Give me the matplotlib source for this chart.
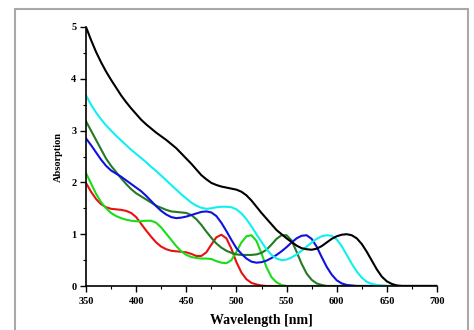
import matplotlib
matplotlib.use("Agg")
import matplotlib.pyplot as plt
from matplotlib.patches import Rectangle
from matplotlib.ticker import MultipleLocator

wavelength = list(range(350, 705, 5))

def pad(vals):
    return vals + [0.0] * (len(wavelength) - len(vals))

black = pad([5.00, 4.75, 4.52, 4.32, 4.14, 3.98, 3.83, 3.68, 3.55, 3.43,
             3.32, 3.21, 3.12, 3.04, 2.96, 2.89, 2.82, 2.74, 2.66, 2.56,
             2.46, 2.36, 2.25, 2.14, 2.06, 1.99, 1.95, 1.92, 1.90, 1.88,
             1.86, 1.82, 1.75, 1.65, 1.53, 1.41, 1.30, 1.19, 1.08, 1.00,
             0.92, 0.85, 0.78, 0.73, 0.71, 0.70, 0.72, 0.77, 0.84, 0.91,
             0.96, 0.99, 1.00, 0.98, 0.92, 0.81, 0.66, 0.49, 0.32, 0.18,
             0.09, 0.04, 0.01, 0.0])

cyan = pad([3.68, 3.50, 3.35, 3.22, 3.10, 3.00, 2.90, 2.81, 2.72, 2.63,
            2.55, 2.47, 2.39, 2.30, 2.22, 2.13, 2.04, 1.95, 1.86, 1.77,
            1.69, 1.61, 1.55, 1.51, 1.49, 1.50, 1.52, 1.53, 1.53, 1.52,
            1.48, 1.40, 1.29, 1.15, 1.00, 0.85, 0.71, 0.60, 0.53, 0.50,
            0.51, 0.55, 0.61, 0.68, 0.76, 0.84, 0.91, 0.96, 0.98, 0.97,
            0.90, 0.77, 0.60, 0.43, 0.28, 0.16, 0.08, 0.04, 0.02, 0.01,
            0.0])

blue = pad([2.85, 2.72, 2.58, 2.44, 2.32, 2.23, 2.17, 2.11, 2.04, 1.97,
            1.90, 1.83, 1.74, 1.64, 1.54, 1.45, 1.38, 1.33, 1.31, 1.32,
            1.34, 1.37, 1.40, 1.43, 1.44, 1.42, 1.35, 1.22, 1.06, 0.89,
            0.73, 0.62, 0.53, 0.47, 0.45, 0.46, 0.49, 0.54, 0.60, 0.67,
            0.75, 0.84, 0.92, 0.97, 0.98, 0.91, 0.76, 0.56, 0.37, 0.22,
            0.11, 0.05, 0.02, 0.01, 0.0])

dark_green = pad([3.18, 3.00, 2.82, 2.64, 2.46, 2.32, 2.20, 2.08, 1.97, 1.87,
                  1.79, 1.73, 1.67, 1.61, 1.55, 1.51, 1.47, 1.44, 1.43, 1.42,
                  1.41, 1.37, 1.29, 1.18, 1.05, 0.93, 0.82, 0.74, 0.68, 0.64,
                  0.61, 0.60, 0.60, 0.60, 0.61, 0.64, 0.70, 0.80, 0.91, 0.98,
                  0.98, 0.88, 0.66, 0.43, 0.24, 0.12, 0.05, 0.02, 0.0])

red = pad([1.99, 1.82, 1.68, 1.58, 1.52, 1.49, 1.48, 1.47, 1.45, 1.41,
           1.33, 1.20, 1.07, 0.95, 0.84, 0.76, 0.71, 0.68, 0.67, 0.66,
           0.65, 0.62, 0.58, 0.58, 0.65, 0.80, 0.94, 0.99, 0.92, 0.72,
           0.46, 0.26, 0.13, 0.06, 0.03, 0.01, 0.0])

light_green = pad([2.18, 1.98, 1.78, 1.62, 1.50, 1.41, 1.35, 1.31, 1.28, 1.26,
                   1.25, 1.25, 1.26, 1.26, 1.22, 1.13, 1.01, 0.89, 0.77, 0.67,
                   0.60, 0.56, 0.54, 0.53, 0.53, 0.52, 0.48, 0.45, 0.44, 0.50,
                   0.66, 0.84, 0.96, 0.98, 0.87, 0.63, 0.36, 0.17, 0.07, 0.02,
                   0.0])

series = [
    (red, "#e81010"),
    (light_green, "#18dd18"),
    (dark_green, "#237a23"),
    (blue, "#1010e0"),
    (cyan, "#10f0f0"),
    (black, "#000000"),
]

plt.rcParams['font.family'] = ['Liberation Serif', 'DejaVu Serif']
plt.rcParams['font.weight'] = 'bold'

fig = plt.figure(figsize=(4.74, 3.30), dpi=100)
fig.patches.append(Rectangle((15/474, -0.1), (468-15)/474, 1.1 - 9/330,
                             transform=fig.transFigure, fill=False,
                             edgecolor="#a8a8a8", linewidth=1.5))

ax = fig.add_axes([86/474, 1 - 286/330, (437-86)/474, (286-27)/330])
for vals, col in series:
    ax.plot(wavelength, vals, color=col, linewidth=1.5)

ax.set_xlim(350, 700)
ax.set_ylim(0, 5)
ax.spines['top'].set_visible(False)
ax.spines['right'].set_visible(False)
for s in ('left', 'bottom'):
    ax.spines[s].set_linewidth(1.2)
ax.xaxis.set_major_locator(MultipleLocator(50))
ax.xaxis.set_minor_locator(MultipleLocator(25))
ax.yaxis.set_major_locator(MultipleLocator(1))
ax.yaxis.set_minor_locator(MultipleLocator(0.5))
ax.tick_params(which='major', direction='out', length=4, width=1.0, labelsize=7.5)
ax.tick_params(axis='x', which='major', pad=4)
ax.tick_params(axis='y', which='major', pad=3)
ax.tick_params(which='minor', direction='out', length=2.5, width=0.8)
for lab in ax.get_xticklabels() + ax.get_yticklabels():
    lab.set_fontweight('bold')

ax.set_xlabel("Wavelength [nm]", fontsize=10, fontweight='bold', labelpad=6)
ax.set_ylabel("Absorption", fontsize=7.5, fontweight='bold', labelpad=6)

fig.savefig("out.png", dpi=100)
